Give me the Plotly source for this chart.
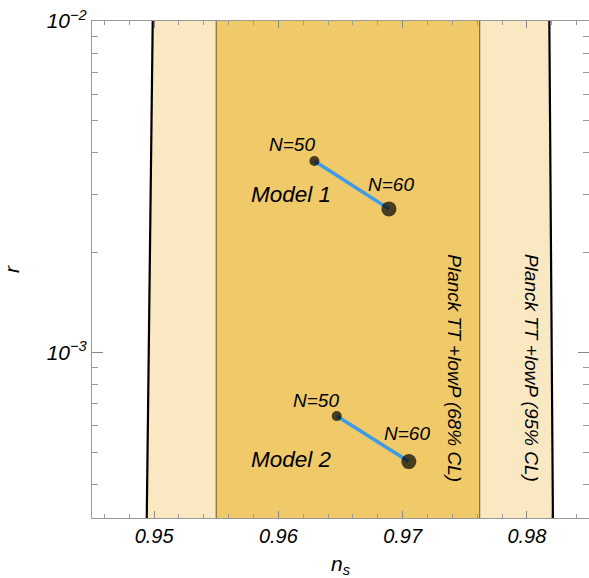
import math
import plotly.graph_objects as go

# ---------------- data ----------------
ns_range = [0.945, 0.985]
log_r_range = [-3.5, -2.0]

# Planck TT+lowP contour boundaries (n_s at the bottom / top of the r window)
r_edge = [3.0e-4, 1.1e-2]
ns95_lo = [0.9494, 0.9499]
ns95_hi = [0.9821, 0.9818]
ns68_lo = [0.9550, 0.9550]
ns68_hi = [0.9762, 0.9762]

# model predictions for N = 50, 60 e-folds
N_labels = ["N=50", "N=60"]
model1_ns = [0.9629, 0.9689]
model1_r = [3.78e-3, 2.71e-3]
model2_ns = [0.9647, 0.9705]
model2_r = [6.42e-4, 4.68e-4]

x_tickvals = [0.95, 0.96, 0.97, 0.98]
x_ticktext = ["0.95", "0.96", "0.97", "0.98"]
y_tickvals = [1e-3, 1e-2]
y_ticktext = ["10<sup>\u22123</sup>", "10<sup>\u22122</sup>"]
y_minor = [k * 10.0 ** e for e in (-4, -3) for k in range(2, 10)]

# ---------------- styles ----------------
FONT = "Liberation Sans"
C95 = "#F9E8C2"
C68 = "#F0CA68"
C68_LINE = "#7E6B3E"
BLUE = "#3D9BE8"

fig = go.Figure()

# 95% band
fig.add_trace(go.Scatter(
    x=ns95_lo + ns95_hi[::-1], y=r_edge + r_edge[::-1],
    fill="toself", fillcolor=C95, mode="lines", line=dict(width=0),
    hoverinfo="skip", showlegend=False))
# 68% band
fig.add_trace(go.Scatter(
    x=ns68_lo + ns68_hi[::-1], y=r_edge + r_edge[::-1],
    fill="toself", fillcolor=C68, mode="lines", line=dict(width=0),
    hoverinfo="skip", showlegend=False))
# boundaries
for xs in (ns68_lo, ns68_hi):
    fig.add_trace(go.Scatter(x=xs, y=r_edge, mode="lines",
                             line=dict(color=C68_LINE, width=1.2),
                             hoverinfo="skip", showlegend=False))
for xs in (ns95_lo, ns95_hi):
    fig.add_trace(go.Scatter(x=xs, y=r_edge, mode="lines",
                             line=dict(color="black", width=2.2),
                             hoverinfo="skip", showlegend=False))

# models
for ns, r in ((model1_ns, model1_r), (model2_ns, model2_r)):
    fig.add_trace(go.Scatter(x=ns, y=r, mode="lines",
                             line=dict(color=BLUE, width=3.5),
                             showlegend=False))
    fig.add_trace(go.Scatter(x=ns, y=r, mode="markers",
                             marker=dict(color="black", size=[10, 15],
                                         line=dict(width=0)),
                             showlegend=False))

annotations = []
tf_small = dict(family=FONT, size=19, color="black", style="italic")
tf_big = dict(family=FONT, size=22.5, color="black", style="italic")

label_offsets = {
    "m1": [(-22, 16), (2, 24)],
    "m2": [(-21, 16), (-2, 28)],
}
for key, ns, r, name, name_off in (
        ("m1", model1_ns, model1_r, "Model 1", (-23, -34)),
        ("m2", model2_ns, model2_r, "Model 2", (-45, -43))):
    for i in range(2):
        dx, dy = label_offsets[key][i]
        annotations.append(dict(x=ns[i], y=math.log10(r[i]), xref="x", yref="y",
                                text=N_labels[i], showarrow=False,
                                xanchor="center", yanchor="middle",
                                xshift=dx, yshift=dy, font=tf_small))
    annotations.append(dict(x=ns[0], y=math.log10(r[0]), xref="x", yref="y",
                            text=name, showarrow=False,
                            xanchor="center", yanchor="middle",
                            xshift=name_off[0], yshift=name_off[1], font=tf_big))

tf_planck = dict(family=FONT, size=19, color="black", style="italic")
annotations.append(dict(x=ns68_hi[0], y=0.302, xref="x", yref="paper",
                        text="Planck TT +lowP (68% CL)", textangle=90,
                        xanchor="center", yanchor="middle",
                        showarrow=False, xshift=-26, font=tf_planck))
annotations.append(dict(x=ns95_hi[0], y=0.302, xref="x", yref="paper",
                        text="Planck TT +lowP (95% CL)", textangle=90,
                        xanchor="center", yanchor="middle",
                        showarrow=False, xshift=-22, font=tf_planck))

fig.update_layout(
    width=589, height=578,
    margin=dict(l=92, r=0, t=21, b=60),
    paper_bgcolor="white", plot_bgcolor="white",
    font=dict(family=FONT, size=20, color="black", style="italic"),
    annotations=annotations,
    showlegend=False,
)
fig.update_xaxes(
    range=ns_range, showgrid=False, zeroline=False,
    showline=True, linecolor="#9A9A9A", linewidth=1, mirror="allticks",
    ticks="inside", ticklen=7, tickcolor="#888888", tickwidth=1,
    tickmode="array", tickvals=x_tickvals, ticktext=x_ticktext,
    tickfont=dict(family=FONT, size=20, color="black", style="italic"),
    minor=dict(tick0=0.944, dtick=0.002, ticks="inside", ticklen=4,
               tickcolor="#999999", showgrid=False),
    title=dict(text="n<sub>s</sub>", standoff=12,
               font=dict(family=FONT, size=21, color="black", style="italic")),
)
fig.update_yaxes(
    type="log", range=log_r_range, showgrid=False, zeroline=False,
    showline=True, linecolor="#9A9A9A", linewidth=1, mirror="allticks",
    ticks="inside", ticklen=11, tickcolor="#888888", tickwidth=1,
    tickmode="array", tickvals=y_tickvals, ticktext=y_ticktext,
    tickfont=dict(family=FONT, size=21, color="black", style="italic"),
    minor=dict(tickmode="array", tickvals=y_minor, ticks="inside", ticklen=6,
               tickcolor="#999999", showgrid=False),
    title=dict(text="r", standoff=22,
               font=dict(family=FONT, size=21, color="black", style="italic")),
)

fig.write_html("out.html",
               config={"displayModeBar": False},
               post_script="document.body.style.margin='0';document.body.style.overflow='hidden';")
